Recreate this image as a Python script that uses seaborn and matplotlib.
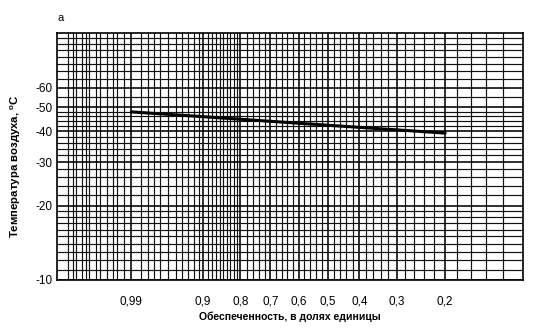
import numpy as np
import matplotlib
matplotlib.use("Agg")
import matplotlib.pyplot as plt
import seaborn as sns

# ---- data ----
prob = [0.99, 0.9, 0.5, 0.2]                 # обеспеченность
temp = [-47.9, -45.8, -42.3, -39.3]          # температура воздуха, °C

x_ticks = [0.99, 0.9, 0.8, 0.7, 0.6, 0.5, 0.4, 0.3, 0.2]
x_ticklabels = ["0,99", "0,9", "0,8", "0,7", "0,6", "0,5", "0,4", "0,3", "0,2"]
y_ticks = [-10, -20, -30, -40, -50, -60]
y_ticklabels = ["-10", "-20", "-30", "-40", "-50", "-60"]

# grid of the probability paper
x_minor = ([1 - q for q in [0.0002, 0.0003, 0.0004, 0.0006, 0.0008, 0.001, 0.0015,
                            0.002, 0.003, 0.004, 0.005, 0.007]]
           + [0.985, 0.98, 0.975, 0.97, 0.96, 0.95, 0.94, 0.93, 0.92, 0.91]
           + [0.89, 0.88, 0.87, 0.86, 0.85, 0.84, 0.83, 0.82, 0.81]
           + [0.78, 0.76, 0.74, 0.72, 0.68, 0.66, 0.64, 0.62, 0.58, 0.56, 0.54, 0.52]
           + [0.48, 0.46, 0.44, 0.42, 0.38, 0.36, 0.34, 0.32, 0.28, 0.26, 0.24, 0.22]
           + [0.18, 0.16, 0.14, 0.12])
y_minor = ([-11, -12, -13, -14, -15, -16, -17, -18, -19]
           + [-22, -24, -26, -28, -32, -34, -36, -38, -42, -44, -46, -48]
           + [-55, -65, -70, -75, -80, -85, -90, -95])

sns.set_theme(style="white")
plt.rcParams["font.family"] = ["Liberation Sans", "DejaVu Sans"]
plt.rcParams["mathtext.fontset"] = "custom"
plt.rcParams["mathtext.rm"] = "Liberation Sans"
plt.rcParams["mathtext.bf"] = "Liberation Sans:bold"
plt.rcParams["text.color"] = "black"
plt.rcParams["axes.labelcolor"] = "black"

fig = plt.figure(figsize=(5.35, 3.29), dpi=100)
ax = fig.add_axes([0.1065, 0.149, 0.871, 0.751])


def fx(p):
    p = np.clip(np.asarray(p, dtype=float), 1e-9, 1 - 1e-9)
    return np.log(-np.log(1 - p))


def fx_inv(g):
    return 1 - np.exp(-np.exp(np.asarray(g, dtype=float)))


def fy(t):
    t = np.asarray(t, dtype=float)
    return -np.log10(np.clip(-t, 1e-6, None))


def fy_inv(v):
    return -10 ** (-np.asarray(v, dtype=float))


ax.set_xscale("function", functions=(fx, fx_inv))
ax.set_yscale("function", functions=(fy, fy_inv))

sns.lineplot(x=prob, y=temp, ax=ax, color="black", linewidth=2.2, zorder=5)

ax.set_xlim(0.99992, 0.1)
ax.set_ylim(-10, -100)

ax.set_xticks(x_ticks)
ax.set_xticklabels(x_ticklabels)
ax.set_xticks(x_minor, minor=True)
ax.set_yticks(y_ticks)
ax.set_yticklabels(y_ticklabels)
ax.set_yticks(y_minor, minor=True)

ax.grid(True, which="major", color="black", linewidth=1.15)
ax.grid(True, which="minor", color="#111111", linewidth=0.85)
ax.tick_params(which="both", length=0)
ax.tick_params(axis="x", pad=11, labelsize=8.5, colors="black")
ax.tick_params(axis="y", pad=3, labelsize=8.5, colors="black")
for s in ax.spines.values():
    s.set_color("black")
    s.set_linewidth(1.2)

ax.set_xlabel("Обеспеченность, в долях единицы", fontsize=7.5,
              fontweight="bold", labelpad=3, color="black")
ax.set_ylabel(r"Температура воздуха, $\mathbf{^{o}C}$", fontsize=8.2,
              fontweight="bold", color="black")
ax.yaxis.set_label_coords(-0.072, 0.46)

fig.text(0.107, 1 - 18 / 329, "а", fontsize=8, ha="left", va="center",
         color="black")

fig.savefig("out.png", dpi=100, facecolor="white")
